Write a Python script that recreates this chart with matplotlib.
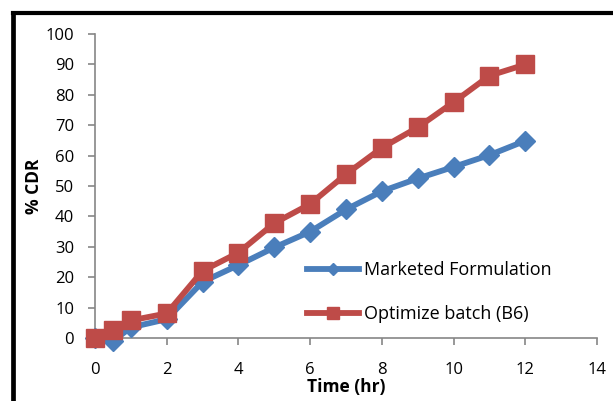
import matplotlib
matplotlib.use("Agg")
import matplotlib.pyplot as plt
from matplotlib.lines import Line2D
import numpy as np

plt.rcParams['font.family'] = ['Open Sans', 'DejaVu Sans']

# Datos
tiempo = [0, 0.5, 1, 2, 3, 4, 5, 6, 7, 8, 9, 10, 11, 12]
marketed = [0, -1, 3.5, 6.2, 18.5, 24, 29.8, 35, 42.3, 48.3, 52.5, 56.3, 60.2, 64.9]
optimize = [0, 2.6, 5.8, 8.1, 22.1, 28.1, 37.8, 44.1, 53.9, 62.6, 69.3, 77.6, 86.3, 90.0]
etiquetas = ['Marketed Formulation', 'Optimize batch (B6)']

azul = '#4A7EBB'
rojo = '#BE4B48'
gris = '#868686'

fig = plt.figure(figsize=(6.13, 4.01), dpi=100)
ax = fig.add_axes([0.155, 0.157, 0.819, 0.758])

ax.plot(tiempo, marketed, color=azul, lw=4.2, marker='D', ms=10.5,
        label=etiquetas[0], zorder=3, clip_on=False)
ax.plot(tiempo, optimize, color=rojo, lw=4.2, marker='s', ms=13.5,
        label=etiquetas[1], zorder=4, clip_on=False)

ax.set_xlim(0, 14)
ax.set_ylim(0, 100)
ax.set_xticks(np.arange(0, 15, 2))
ax.set_yticks(np.arange(0, 101, 10))
for s in ['top', 'right']:
    ax.spines[s].set_visible(False)
for s in ['left', 'bottom']:
    ax.spines[s].set_color(gris)
    ax.spines[s].set_linewidth(1.2)
ax.tick_params(axis='both', colors=gris, length=5, width=1.2, labelcolor='black',
               labelsize=12)
ax.tick_params(axis='y', pad=10)
ax.tick_params(axis='x', pad=12)

ax.set_xlabel('Time (hr)', fontsize=12.5, fontweight='bold', labelpad=0)
ax.set_ylabel('% CDR', fontsize=12.5, fontweight='bold', labelpad=2)

leg = ax.legend(loc='lower left', bbox_to_anchor=(0.39, -0.005), frameon=False,
                fontsize=13, handlelength=2.9, handletextpad=0.25,
                labelspacing=1.45, markerscale=0.6)

# Marco negro
fig.add_artist(Line2D([0.0215, 0.0215], [-0.01, 0.9676], color='black', lw=3.4,
                      transform=fig.transFigure, solid_capstyle='projecting'))
fig.add_artist(Line2D([0.0215, 1.01], [0.9676, 0.9676], color='black', lw=3.0,
                      transform=fig.transFigure, solid_capstyle='projecting'))

fig.savefig('out.png', dpi=100)
